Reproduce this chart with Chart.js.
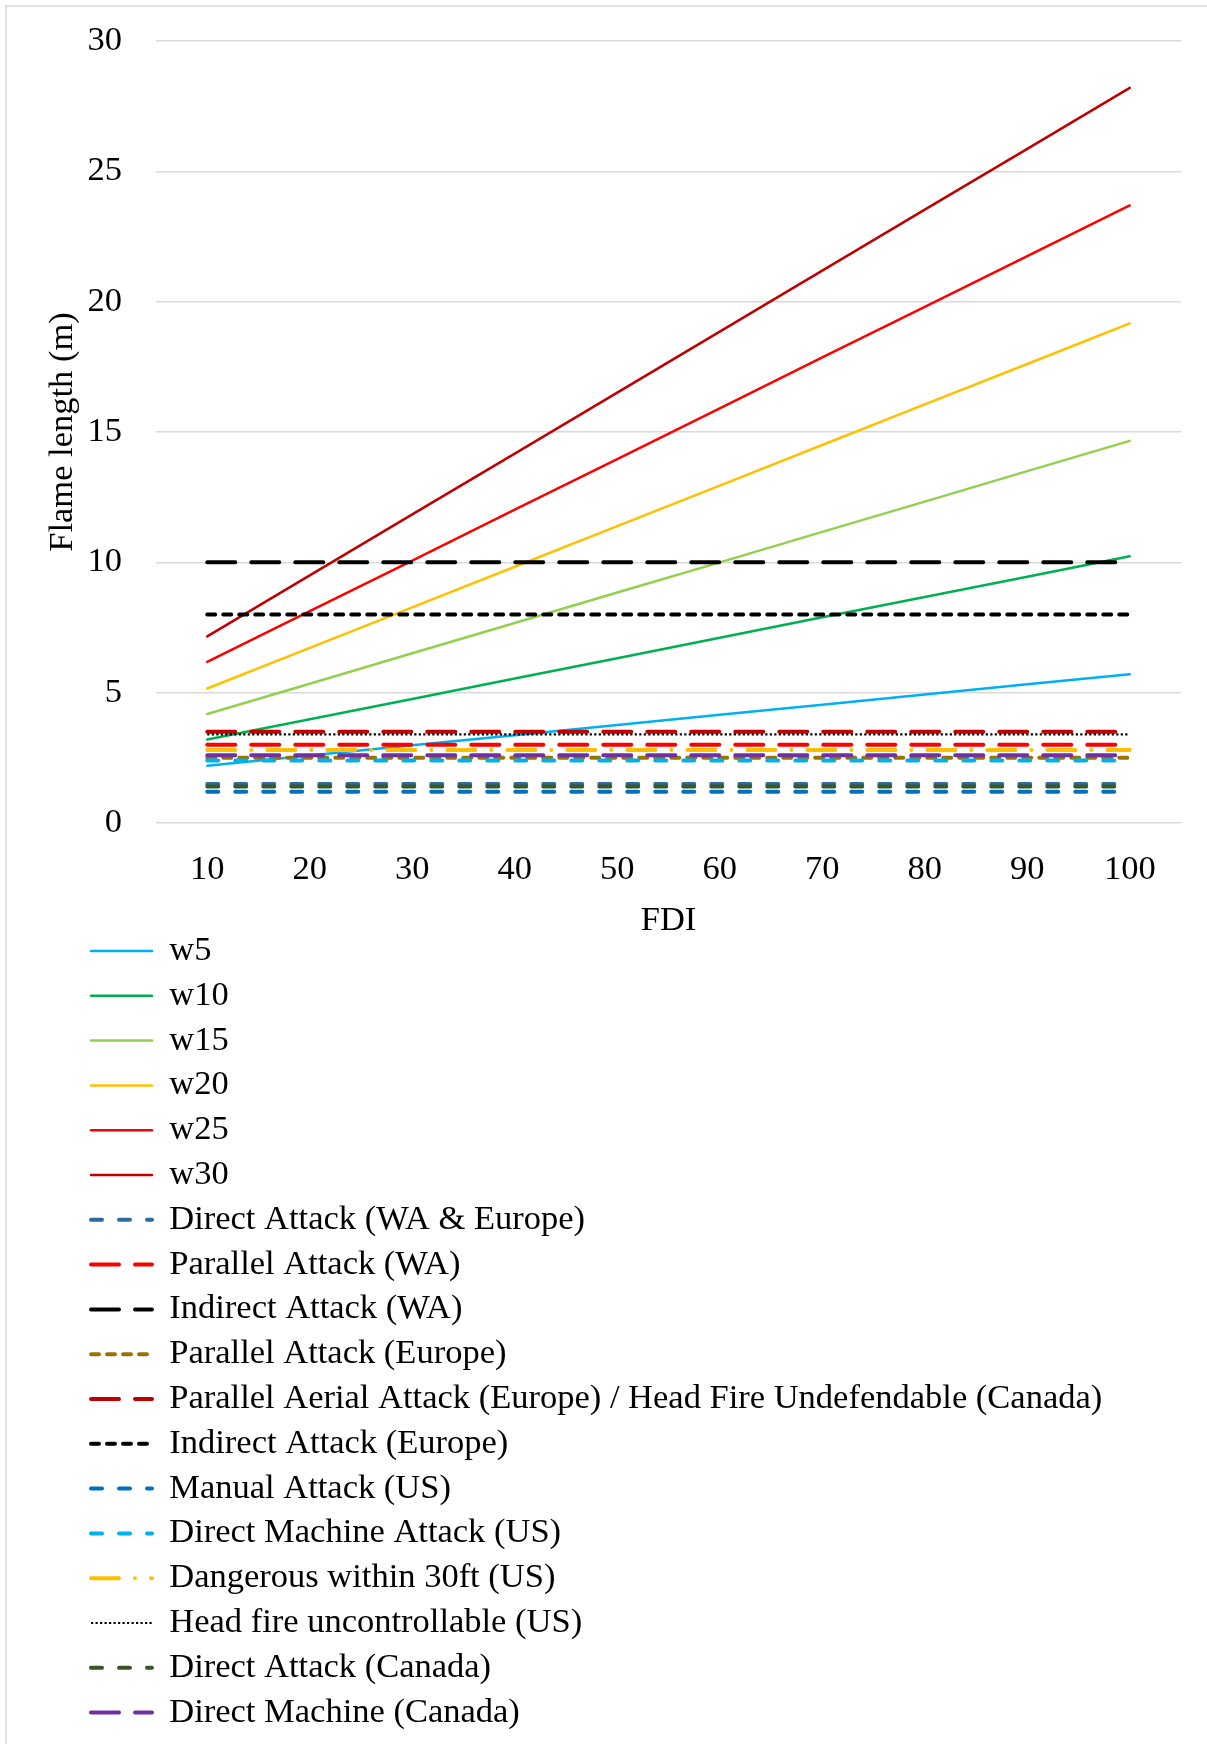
<!DOCTYPE html>
<html>
<head>
<meta charset="utf-8">
<script src="https://cdn.jsdelivr.net/npm/chart.js@4.4.0/dist/chart.umd.min.js"></script>
<style>
  html, body { margin: 0; padding: 0; background: #ffffff; }
  canvas { display: block; }
</style>
</head>
<body>
<canvas id="chart" width="1207" height="1744"></canvas>
<script>
// ---------------- DATA ----------------
const fdiLabels = ['10', '20', '30', '40', '50', '60', '70', '80', '90', '100'];

const w5  = [2.20, 2.59, 2.98, 3.37, 3.76, 4.15, 4.54, 4.93, 5.32, 5.71];
const w10 = [3.20, 3.98, 4.76, 5.54, 6.32, 7.11, 7.89, 8.67, 9.45, 10.23];
const w15 = [4.18, 5.34, 6.51, 7.67, 8.84, 10.00, 11.17, 12.33, 13.50, 14.66];
const w20 = [5.16, 6.72, 8.27, 9.83, 11.39, 12.94, 14.50, 16.06, 17.61, 19.17];
const w25 = [6.18, 8.13, 10.07, 12.02, 13.96, 15.91, 17.86, 19.80, 21.75, 23.69];
const w30 = [7.16, 9.50, 11.84, 14.17, 16.51, 18.85, 21.19, 23.53, 25.86, 28.20];

const windLabels = ['w5', 'w10', 'w15', 'w20', 'w25', 'w30'];
const windSeries = [w5, w10, w15, w20, w25, w30];

const thresholdLabels = [
  'Direct Attack (WA & Europe)',
  'Parallel Attack (WA)',
  'Indirect Attack (WA)',
  'Parallel Attack (Europe)',
  'Parallel Aerial Attack (Europe) / Head Fire Undefendable (Canada)',
  'Indirect Attack (Europe)',
  'Manual Attack (US)',
  'Direct Machine Attack (US)',
  'Dangerous within 30ft (US)',
  'Head fire uncontrollable (US)',
  'Direct Attack (Canada)',
  'Direct Machine (Canada)'
];
const thresholdValues = [1.5, 3.0, 10.0, 2.5, 3.5, 8.0, 1.2, 2.4, 2.8, 3.4, 1.4, 2.6];

const yTickValues = [0, 5, 10, 15, 20, 25, 30];

// ---------------- STYLES ----------------
const windColors = ['#00B0F0', '#00B050', '#92D050', '#FFC000', '#FF0000', '#C00000'];

const DASH = [11, 17];           // Excel "dash"
const LONG_DASH = [28, 16];      // Excel "long dash"
const SYS_DASH = [8, 8];         // Excel "sysDash"
const LONG_DASH_DOT = [28, 16, 0.01, 16];
const ROUND_DOT = [2.2, 2.3];

const thresholdStyles = [
  { color: '#2F6AA0', dash: DASH, width: 4, cap: 'round' },
  { color: '#FF0000', dash: LONG_DASH, width: 4, cap: 'round' },
  { color: '#000000', dash: LONG_DASH, width: 4, cap: 'round' },
  { color: '#997300', dash: SYS_DASH, width: 4, cap: 'round' },
  { color: '#C00000', dash: LONG_DASH, width: 4, cap: 'round' },
  { color: '#000000', dash: SYS_DASH, width: 4, cap: 'round' },
  { color: '#0070C0', dash: DASH, width: 4, cap: 'round' },
  { color: '#00B0F0', dash: DASH, width: 4, cap: 'round' },
  { color: '#FFC000', dash: LONG_DASH_DOT, width: 4, cap: 'round' },
  { color: '#000000', dash: ROUND_DOT, width: 2.2, cap: 'butt' },
  { color: '#385723', dash: DASH, width: 4, cap: 'round' },
  { color: '#7030A0', dash: LONG_DASH, width: 4, cap: 'round' }
];

// ---------------- BUILD DATASETS ----------------
const datasets = [];
windLabels.forEach((lab, i) => {
  datasets.push({
    label: lab,
    data: windSeries[i],
    borderColor: windColors[i],
    backgroundColor: windColors[i],
    borderWidth: 2.5,
    borderDash: [],
    borderCapStyle: 'round'
  });
});
thresholdLabels.forEach((lab, i) => {
  const s = thresholdStyles[i];
  datasets.push({
    label: lab,
    data: fdiLabels.map(() => thresholdValues[i]),
    borderColor: s.color,
    backgroundColor: s.color,
    borderWidth: s.width,
    borderDash: s.dash,
    borderCapStyle: s.cap
  });
});
const N = datasets.length;
datasets.forEach((d, i) => {
  d.order = N - i;          // later series drawn on top (like the original)
  d.pointRadius = 0;
  d.pointHoverRadius = 0;
  d.tension = 0;
  d.fill = false;
});

// ---------------- LAYOUT CONSTANTS ----------------
const FONT_FAMILY = "'Liberation Serif', 'Times New Roman', serif";
const FONT_SIZE = 34.5;
const TOP_PAD = 41;
const CHART_BOTTOM = 823;
const CHART_LEFT = 156;
const CHART_RIGHT = 1181;
const X_AXIS_H = 120;
const LEGEND_H = 1744 - CHART_BOTTOM - X_AXIS_H;
const LEGEND_PAD = 44.8 - FONT_SIZE;
const LEGEND_X = 91;
const LEGEND_SAMPLE_W = 61;
const LEGEND_FIRST_Y = 951;

Chart.defaults.font.family = FONT_FAMILY;
Chart.defaults.font.size = FONT_SIZE;
Chart.defaults.color = '#000000';

const layoutPlugin = {
  id: 'frameAndLegendLayout',
  beforeLayout(chart) {
    const lg = chart.legend;
    if (lg && !lg.__stacked) {
      const origFit = lg.fit;
      lg.fit = function () {
        this.maxWidth = 10;            // one legend entry per row
        origFit.call(this);
        this.height = LEGEND_H;
      };
      lg.draw = function () {          // draw without clipping to the narrow box
        if (this.options.display) this._draw();
      };
      lg.__stacked = true;
    }
  },
  beforeDraw(chart) {
    const ctx = chart.ctx;
    ctx.save();
    ctx.strokeStyle = '#D9D9D9';
    ctx.lineWidth = 1.5;
    ctx.beginPath();
    ctx.moveTo(6, chart.height);
    ctx.lineTo(6, 6);
    ctx.lineTo(chart.width, 6);
    ctx.stroke();
    ctx.restore();
    const lg = chart.legend;
    const pad = lg.options.labels.padding;
    lg.left = LEGEND_X - pad;
    lg.right = lg.left + 10;
    lg.top = LEGEND_FIRST_Y - FONT_SIZE / 2 - pad;
  }
};

new Chart(document.getElementById('chart'), {
  type: 'line',
  data: { labels: fdiLabels, datasets: datasets },
  options: {
    responsive: false,
    animation: false,
    devicePixelRatio: 1,
    layout: { padding: { top: TOP_PAD, left: 0, right: 1207 - CHART_RIGHT, bottom: 0 } },
    plugins: {
      tooltip: { enabled: false },
      legend: {
        display: true,
        position: 'bottom',
        align: 'start',
        labels: {
          usePointStyle: true,
          pointStyleWidth: LEGEND_SAMPLE_W,
          padding: LEGEND_PAD,
          color: '#000000',
          font: { family: FONT_FAMILY, size: FONT_SIZE },
          generateLabels: (chart) => chart.data.datasets.map((ds, i) => ({
            text: ds.label,
            fillStyle: ds.borderColor,
            strokeStyle: ds.borderColor,
            lineWidth: ds.borderWidth,
            lineDash: ds.borderDash || [],
            lineCap: ds.borderCapStyle || 'butt',
            pointStyle: 'line',
            fontColor: '#000000',
            hidden: false,
            datasetIndex: i
          }))
        }
      }
    },
    scales: {
      x: {
        type: 'category',
        offset: true,
        grid: { display: false, drawTicks: false },
        border: { display: false },
        ticks: { padding: 26, maxRotation: 0, autoSkip: false, color: '#000000' },
        title: { display: true, text: 'FDI', color: '#000000', padding: { top: 0, bottom: 1.6 } },
        afterFit: (scale) => { scale.height = X_AXIS_H; }
      },
      y: {
        min: 0,
        max: 30,
        afterBuildTicks: (scale) => { scale.ticks = yTickValues.map(v => ({ value: v })); },
        grid: { color: '#D9D9D9', lineWidth: 1.5, drawTicks: false },
        border: { display: false },
        ticks: { padding: 34, color: '#000000' },
        title: { display: true, text: 'Flame length (m)', color: '#000000', padding: { top: 42.6, bottom: 0 } },
        afterFit: (scale) => {
          scale.width = CHART_LEFT;
          scale.paddingTop = 20;
          scale.paddingBottom = 20;
        }
      }
    }
  },
  plugins: [layoutPlugin]
});
</script>
</body>
</html>
